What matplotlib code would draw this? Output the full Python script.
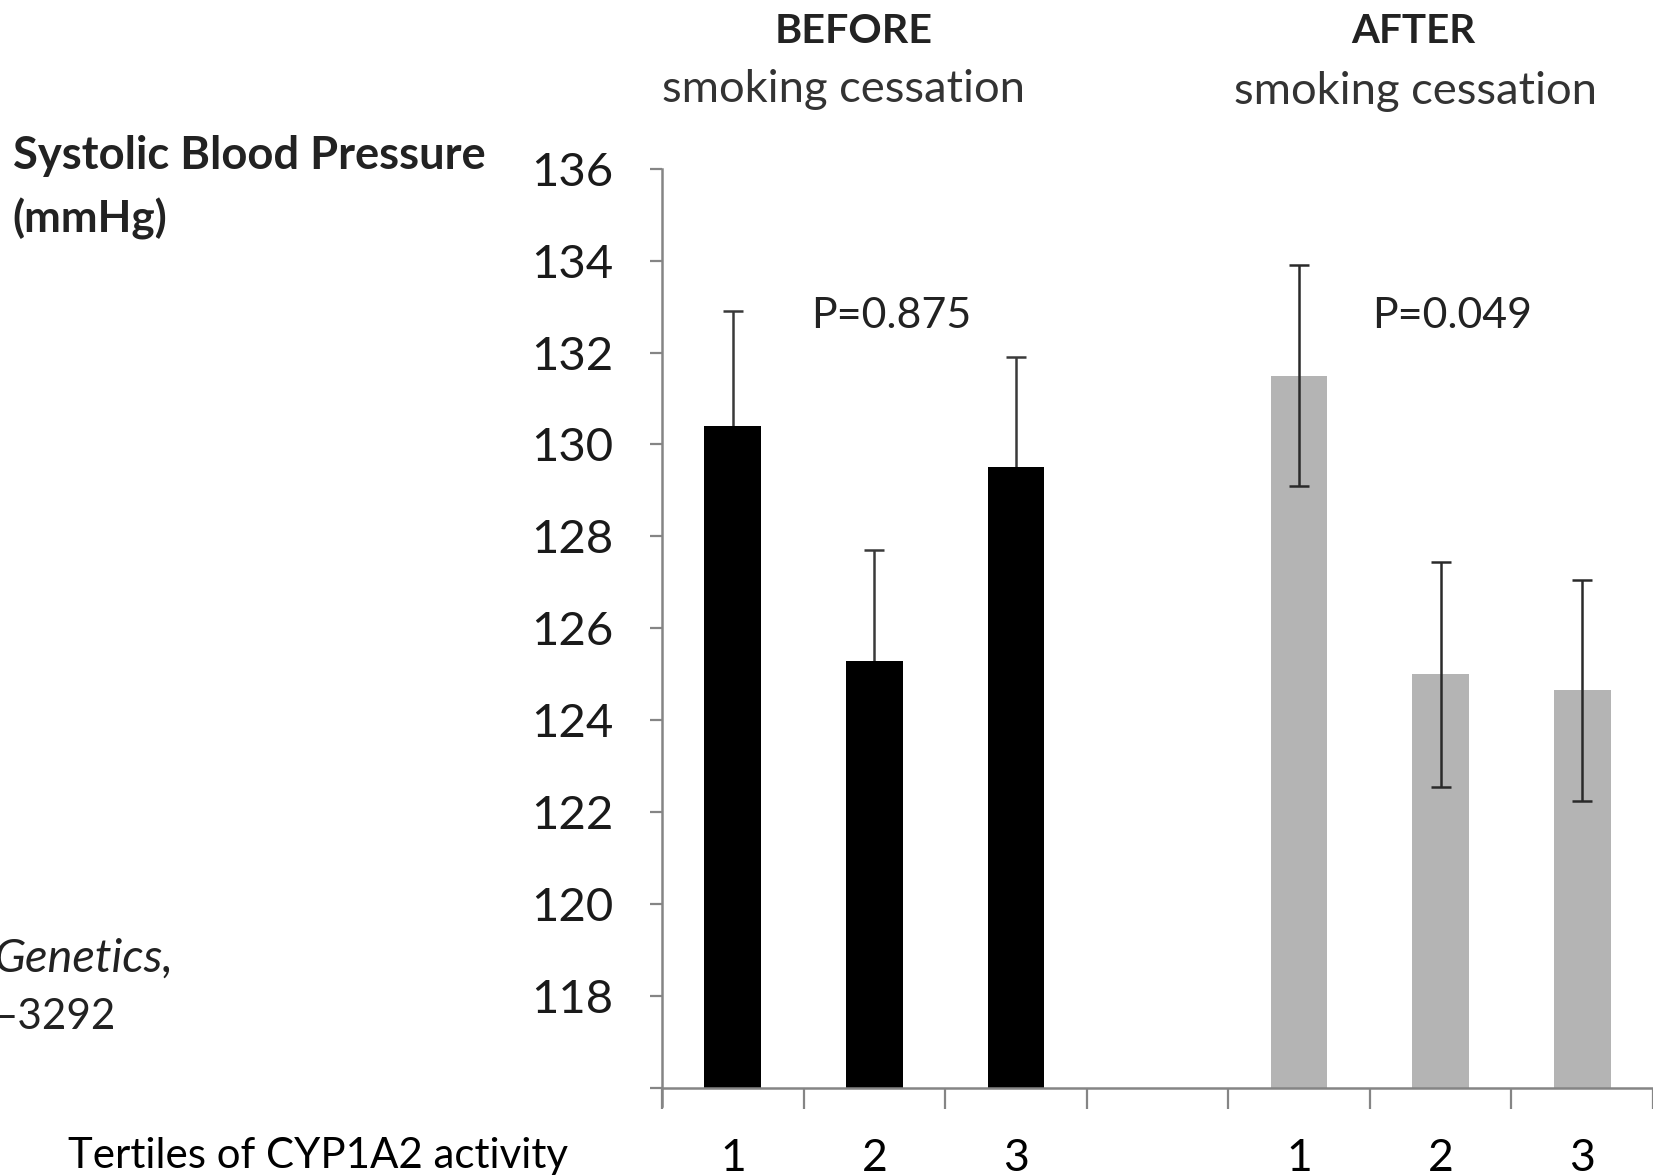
import matplotlib
matplotlib.use("Agg")
import matplotlib.pyplot as plt
import numpy as np

# ---- data ----
tertiles = ["1", "2", "3"]
before_means = [130.4, 125.3, 129.5]
before_err = [2.5, 2.4, 2.4]
after_means = [131.5, 125.0, 124.65]
after_err = [2.4, 2.45, 2.4]
p_before = "P=0.875"
p_after = "P=0.049"
yticks = [118, 120, 122, 124, 126, 128, 130, 132, 134, 136]

FONT = ["Lato", "DejaVu Sans"]
plt.rcParams['font.family'] = FONT

W, H = 1653, 1176
fig = plt.figure(figsize=(W / 100, H / 100), dpi=100)

# axes geometry (pixels)
ax_left = 662
ax_right = 1653
y_top_px = 168.7   # 136
y_base_px = 1088   # 116
units_px = (y_base_px - y_top_px) / 20.0
ymin = 115.6
y_bottom_px = y_base_px + (116 - ymin) * units_px
ax = fig.add_axes([ax_left / W, 1 - y_bottom_px / H,
                   (ax_right - ax_left) / W, (y_bottom_px - y_top_px) / H])

grey_line = "#858585"
x_before = np.arange(len(tertiles))
x_after = np.arange(len(tertiles)) + len(tertiles) + 1

ax.bar(x_before, np.array(before_means) - 116, bottom=116, width=0.4,
       color="black", zorder=2)
ax.bar(x_after, np.array(after_means) - 116, bottom=116, width=0.4,
       color="#b4b4b4", zorder=2)
# "before" error bars drawn behind the black bars, so the lower half is hidden
ax.errorbar(x_before, before_means, yerr=before_err, fmt="none",
            ecolor="#3a3a3a", elinewidth=1.8, capsize=7.5, capthick=1.8, zorder=1)
ax.errorbar(x_after, after_means, yerr=after_err, fmt="none",
            ecolor="#2a2a2a", elinewidth=1.8, capsize=7.5, capthick=1.8, zorder=3)

ax.set_xlim(-0.5, 6.5)
ax.set_ylim(ymin, 136)

for s in ["top", "right"]:
    ax.spines[s].set_visible(False)
ax.spines["bottom"].set_position(("data", 116))
for s in ["left", "bottom"]:
    ax.spines[s].set_color(grey_line)
    ax.spines[s].set_linewidth(1.8)

ax.set_yticks([116] + yticks)
ax.set_yticklabels([""] + [str(v) for v in yticks])
ax.tick_params(axis="y", direction="out", length=9, width=1.6, color=grey_line,
               labelsize=34, pad=26, labelcolor="#1a1a1a")

ax.set_xticks(np.arange(-0.5, 7.0, 1.0))
ax.set_xticklabels([])
ax.tick_params(axis="x", which="major", direction="out", length=15, width=1.6,
               color=grey_line)
centers = list(x_before) + [3] + list(x_after)
labels = tertiles + [""] + tertiles
ax.set_xticks(centers, minor=True)
ax.set_xticklabels(labels, minor=True)
ax.tick_params(axis="x", which="minor", length=0, labelsize=32, pad=36,
               labelcolor="black")

renderer = fig.canvas.get_renderer()


def fit_text(x, y, s, target_w, ha="center", **kw):
    t = fig.text(x / W, 1 - y / H, s, ha=ha, va="center", fontsize=30, **kw)
    w = t.get_window_extent(renderer).width
    t.set_fontsize(30 * target_w / w)
    return t


fit_text(854, 31.6, "BEFORE", 158, fontweight="bold", color="#222222")
fit_text(843, 89.6, "smoking cessation", 363, color="#333333")
fit_text(1413, 31.6, "AFTER", 124, fontweight="bold", color="#222222")
fit_text(1416, 91.7, "smoking cessation", 363, color="#333333")
fit_text(891, 316, p_before, 160, color="#222222")
fit_text(1452, 316, p_after, 160, color="#222222")
fit_text(12.6, 156, "Systolic Blood Pressure", 472, ha="left",
         fontweight="bold", color="#222222")
fit_text(12.6, 219, "(mmHg)", 155, ha="left", fontweight="bold", color="#222222")
fit_text(174, 959, "Genetics,", 180, ha="right", style="italic", color="#222222")
fit_text(116, 1017, "\u20133292", 122, ha="right", color="#222222")
fit_text(68.5, 1156, "Tertiles of CYP1A2 activity", 500, ha="left", color="black")

fig.savefig("out.png", dpi=100)
